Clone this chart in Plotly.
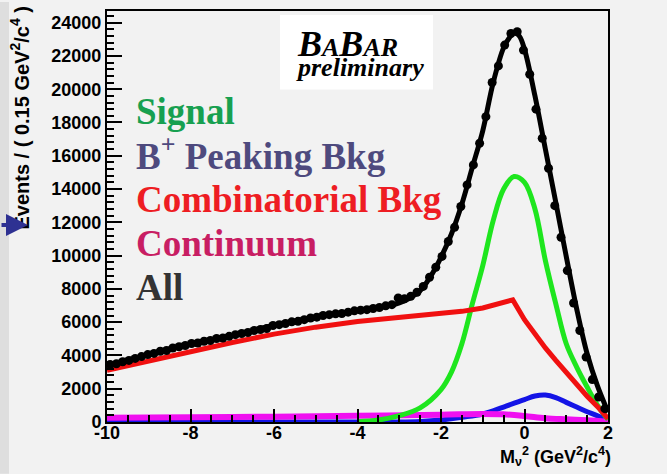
import plotly.graph_objects as go

# ---- histogram of data: M_nu^2, 80 bins of 0.15 GeV^2/c^4 from -10 to 2 ----
bin_lo = -10.0
bin_width = 0.15
data_counts = [
    3450, 3500, 3620, 3700, 3820, 3930, 4050, 4120, 4250, 4300,
    4450, 4520, 4600, 4720, 4750, 4850, 4900, 5020, 5050, 5150,
    5250, 5320, 5380, 5500, 5560, 5620, 5800, 5850, 5920, 6020,
    6050, 6150, 6250, 6300, 6400, 6450, 6500, 6520, 6600, 6680,
    6720, 6750, 6820, 6880, 6980, 7050, 7450, 7400, 7550, 7800,
    8150, 8700, 9300, 9950, 10850, 11700, 12950, 14250, 15450, 16750,
    18350, 20400, 21400, 22650, 23350, 23450, 22350, 20900, 18800, 17050,
    15250, 13000, 11100, 9100, 7150, 5500, 3900, 2550, 1500, 800,
]
data_x = [bin_lo + bin_width * (i + 0.5) for i in range(len(data_counts))]

# ---- fit components ----
total_x = [-10, -9, -8, -7, -6, -5, -4, -3.5, -3, -2.5, -2.25, -2, -1.75, -1.5,
           -1.25, -1, -0.75, -0.5, -0.375, -0.25, -0.125, 0, 0.25, 0.5, 0.75,
           1, 1.25, 1.5, 1.75, 2]
total_y = [3400, 4050, 4700, 5200, 5820, 6320, 6700, 6880, 7150, 7900, 8750,
           9900, 11300, 13100, 15300, 17500, 20400, 22500, 23050, 23400, 23200,
           22400, 19600, 16400, 13200, 9950, 6800, 4100, 2150, 600]

sig_x = [-4, -3.5, -3, -2.5, -2, -1.75, -1.5, -1.25, -1, -0.75, -0.5, -0.25,
         0, 0.25, 0.5, 0.75, 1, 1.25, 1.5, 1.75, 2]
sig_y = [20, 120, 380, 850, 1950, 3000, 4700, 7100, 9400, 12100, 14000, 14750,
         14400, 12800, 9700, 7100, 4700, 3300, 2100, 1000, 150]

peak_x = [-10, -3, -2.5, -2, -1.5, -1, -0.5, 0, 0.25, 0.5, 0.75, 1, 1.25, 1.5,
          1.75, 2]
peak_y = [0, 0, 30, 120, 280, 480, 900, 1350, 1560, 1620, 1470, 1180, 900, 620,
          370, 80]

comb_x = [-10, -9, -8, -7, -6, -5, -4, -3, -2, -1.5, -1, -0.5, -0.28, 0, 0.25,
          0.5, 0.75, 1, 1.25, 1.5, 1.75, 2]
comb_y = [3100, 3680, 4230, 4780, 5280, 5700, 6040, 6290, 6500, 6650, 6850,
          7150, 7340, 6150, 5250, 4450, 3700, 2970, 2250, 1550, 920, 200]

cont_x = [-10, -8, -6, -4, -2, -1, -0.5, 0, 0.5, 1, 1.5, 2]
cont_y = [250, 280, 320, 370, 440, 480, 460, 360, 230, 160, 100, 20]

legend_labels = ["Signal", "B<sup>+</sup> Peaking Bkg", "Combinatorial Bkg",
                 "Continuum", "All"]
legend_colors = ["#17a050", "#4e4a7e", "#ee1d23", "#c81e63", "#333333"]

x_ticks = [-10, -8, -6, -4, -2, 0, 2]
y_ticks = list(range(0, 24001, 2000))

BG = "#f2f2f2"

fig = go.Figure()
fig.add_trace(go.Scatter(x=peak_x, y=peak_y, mode="lines",
                         line=dict(color="#1414e6", width=5, shape="spline")))
fig.add_trace(go.Scatter(x=cont_x, y=cont_y, mode="lines",
                         line=dict(color="#f010f0", width=6, shape="spline")))
fig.add_trace(go.Scatter(x=sig_x, y=sig_y, mode="lines",
                         line=dict(color="#1ee61e", width=5, shape="spline")))
fig.add_trace(go.Scatter(x=comb_x, y=comb_y, mode="lines",
                         line=dict(color="#f01010", width=5)))
fig.add_trace(go.Scatter(x=total_x, y=total_y, mode="lines",
                         line=dict(color="black", width=5, shape="spline")))
fig.add_trace(go.Scatter(x=data_x, y=data_counts, mode="markers",
                         marker=dict(color="black", size=9)))

tickfont = dict(family="Liberation Sans, Arial", size=18, color="black",
                weight="bold")

fig.update_xaxes(range=[-10, 2], tickmode="array", tickvals=x_ticks,
                 ticktext=[str(v) for v in x_ticks], ticks="inside",
                 ticklen=13, tickwidth=2, tickcolor="black",
                 minor=dict(dtick=0.5, tick0=-10, ticks="inside", ticklen=7,
                            tickwidth=2, tickcolor="black"),
                 showline=True, linecolor="black", linewidth=2, mirror=True,
                 showgrid=False, zeroline=False, tickfont=tickfont,
                 ticklabelstandoff=-7)
fig.update_yaxes(range=[0, 24700], tickmode="array", tickvals=y_ticks,
                 ticktext=[str(v) for v in y_ticks], ticks="inside",
                 ticklen=15, tickwidth=2, tickcolor="black",
                 minor=dict(dtick=400, tick0=0, ticks="inside", ticklen=7,
                            tickwidth=2, tickcolor="black"),
                 showline=True, linecolor="black", linewidth=2, mirror=True,
                 showgrid=False, zeroline=False, tickfont=tickfont)

W, H = 667, 474
ML, MR, MT, MB = 107, 59, 9, 52
pw, ph = W - ML - MR, H - MT - MB


def px(x):
    return (x - ML) / pw


def py(y):
    return (H - MB - y) / ph


shapes = [
    # darker strip on the left edge of the page
    dict(type="rect", xref="paper", yref="paper", x0=px(0), x1=px(9),
         y0=py(H), y1=py(0), fillcolor="#dedede", line=dict(width=0),
         layer="below"),
    # white box behind the experiment logo
    dict(type="rect", xref="paper", yref="paper", x0=px(280), x1=px(433),
         y0=py(88), y1=py(13), fillcolor="white", line=dict(width=0),
         layer="below"),
]

annotations = []
legend_centers = [110, 152, 198, 243, 287]
for lab, col, cy in zip(legend_labels, legend_colors, legend_centers):
    annotations.append(dict(
        text=lab, xref="paper", yref="paper", x=px(134), y=py(cy),
        xanchor="left", yanchor="middle", showarrow=False,
        font=dict(family="Liberation Serif, Times New Roman", size=37,
                  color=col, weight="bold")))

annotations += [
    dict(text="<b><i>B<span style='font-size:26px'>A</span>B"
              "<span style='font-size:26px'>AR</span></i></b>",
         xref="paper", yref="paper", x=px(295), y=py(42), xanchor="left",
         yanchor="middle", showarrow=False,
         font=dict(family="Liberation Serif, Times New Roman", size=36,
                   color="black")),
    dict(text="<b><i>preliminary</i></b>", xref="paper", yref="paper",
         x=px(294), y=py(66), xanchor="left", yanchor="middle",
         showarrow=False,
         font=dict(family="Liberation Serif, Times New Roman", size=26,
                   color="black")),
    dict(text="Events / ( 0.15 GeV<sup>2</sup>/c<sup>4</sup> )",
         xref="paper", yref="paper", x=px(20), y=py(3), xanchor="center",
         yanchor="top", textangle=-90, showarrow=False,
         font=dict(family="Liberation Sans, Arial", size=20, color="black",
                   weight="bold")),
    dict(text="M<sub>ν</sub><sup>2</sup> (GeV<sup>2</sup>/c<sup>4</sup>)",
         xref="paper", yref="paper", x=px(613), y=py(457), xanchor="right",
         yanchor="middle", showarrow=False,
         font=dict(family="Liberation Sans, Arial", size=18, color="black",
                   weight="bold")),
    dict(text="", xref="paper", yref="paper", x=px(28), y=py(224),
         ax=-28, ay=0, showarrow=True, arrowhead=2, arrowsize=1.1,
         arrowwidth=4, arrowcolor="#2e3192"),
]

fig.update_layout(width=W, height=H, autosize=False,
                  margin=dict(l=ML, r=MR, t=MT, b=MB, pad=0),
                  paper_bgcolor=BG, plot_bgcolor=BG, showlegend=False,
                  shapes=shapes, annotations=annotations)

fig.write_html("out.html")
